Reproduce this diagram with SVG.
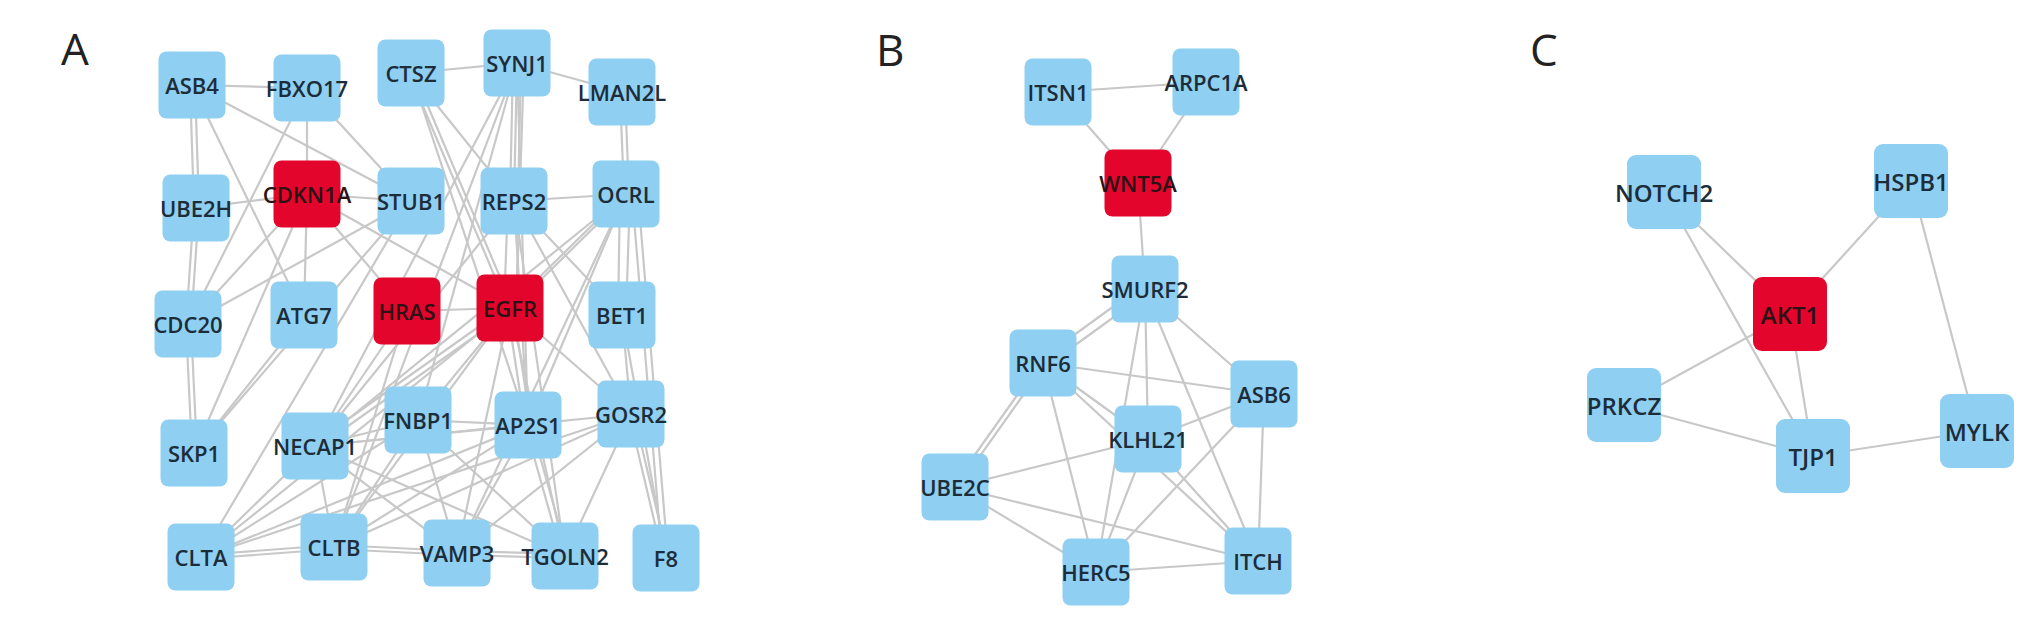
<svg xmlns="http://www.w3.org/2000/svg" width="2031" height="621" viewBox="0 0 2031 621">
<style>
.bg{fill:#ffffff}
.e line{stroke:#c8c8c8;stroke-width:2.2;stroke-linecap:round}
.b{fill:#8ecff2}
.r{fill:#e3052b}
.t{font-family:"Open Sans","Liberation Sans",sans-serif;font-size:22px;font-weight:600;fill:#1c2c38;text-anchor:middle;dominant-baseline:central}
.tr{fill:#2a1216}
.tc{font-size:24px}
.p{font-family:"Open Sans","Liberation Sans",sans-serif;font-size:44px;fill:#222222}
</style>
<rect class="bg" x="0" y="0" width="2031" height="621"/>
<text class="p" x="61" y="65">A</text>
<text class="p" x="876" y="66">B</text>
<text class="p" x="1530" y="66">C</text>
<g id="connectors" class="e">
<line x1="192" y1="85" x2="307" y2="88"/>
<line x1="190" y1="85" x2="194" y2="208"/>
<line x1="195" y1="85" x2="199" y2="208"/>
<line x1="192" y1="85" x2="411" y2="201"/>
<line x1="192" y1="85" x2="304" y2="315"/>
<line x1="307" y1="88" x2="307" y2="194"/>
<line x1="307" y1="88" x2="411" y2="201"/>
<line x1="307" y1="88" x2="188" y2="324"/>
<line x1="411" y1="73" x2="517" y2="63"/>
<line x1="517" y1="63" x2="622" y2="92"/>
<line x1="620" y1="92" x2="624" y2="194"/>
<line x1="625" y1="92" x2="629" y2="194"/>
<line x1="411" y1="73" x2="514" y2="201"/>
<line x1="409" y1="73" x2="508" y2="308"/>
<line x1="414" y1="73" x2="513" y2="308"/>
<line x1="411" y1="73" x2="528" y2="425"/>
<line x1="513" y1="63" x2="510" y2="201"/>
<line x1="517" y1="63" x2="514" y2="201"/>
<line x1="521" y1="63" x2="518" y2="201"/>
<line x1="524" y1="63" x2="516" y2="308"/>
<line x1="517" y1="63" x2="528" y2="425"/>
<line x1="517" y1="63" x2="418" y2="420"/>
<line x1="517" y1="63" x2="315" y2="446"/>
<line x1="517" y1="63" x2="334" y2="547"/>
<line x1="514" y1="201" x2="626" y2="194"/>
<line x1="508" y1="201" x2="504" y2="308"/>
<line x1="520" y1="201" x2="516" y2="308"/>
<line x1="514" y1="201" x2="315" y2="446"/>
<line x1="514" y1="201" x2="528" y2="425"/>
<line x1="514" y1="201" x2="565" y2="556"/>
<line x1="514" y1="201" x2="622" y2="315"/>
<line x1="514" y1="201" x2="631" y2="414"/>
<line x1="196" y1="208" x2="307" y2="194"/>
<line x1="307" y1="194" x2="411" y2="201"/>
<line x1="307" y1="194" x2="407" y2="311"/>
<line x1="307" y1="194" x2="510" y2="308"/>
<line x1="307" y1="194" x2="304" y2="315"/>
<line x1="307" y1="194" x2="188" y2="324"/>
<line x1="307" y1="194" x2="194" y2="453"/>
<line x1="411" y1="201" x2="188" y2="324"/>
<line x1="411" y1="201" x2="194" y2="453"/>
<line x1="411" y1="201" x2="201" y2="557"/>
<line x1="304" y1="315" x2="194" y2="453"/>
<line x1="194" y1="208" x2="186" y2="324"/>
<line x1="199" y1="208" x2="191" y2="324"/>
<line x1="186" y1="324" x2="192" y2="453"/>
<line x1="191" y1="324" x2="197" y2="453"/>
<line x1="407" y1="311" x2="510" y2="308"/>
<line x1="407" y1="311" x2="315" y2="446"/>
<line x1="407" y1="311" x2="334" y2="547"/>
<line x1="508" y1="306" x2="313" y2="444"/>
<line x1="512" y1="310" x2="317" y2="448"/>
<line x1="510" y1="308" x2="418" y2="420"/>
<line x1="507" y1="308" x2="525" y2="425"/>
<line x1="513" y1="308" x2="531" y2="425"/>
<line x1="510" y1="308" x2="201" y2="557"/>
<line x1="510" y1="308" x2="334" y2="547"/>
<line x1="510" y1="308" x2="457" y2="553"/>
<line x1="510" y1="308" x2="565" y2="556"/>
<line x1="510" y1="308" x2="631" y2="414"/>
<line x1="626" y1="192" x2="510" y2="306"/>
<line x1="626" y1="196" x2="510" y2="310"/>
<line x1="626" y1="194" x2="315" y2="446"/>
<line x1="626" y1="194" x2="528" y2="425"/>
<line x1="626" y1="194" x2="457" y2="553"/>
<line x1="620" y1="194" x2="618" y2="315"/>
<line x1="630" y1="194" x2="626" y2="315"/>
<line x1="632" y1="194" x2="662" y2="558"/>
<line x1="638" y1="194" x2="668" y2="558"/>
<line x1="622" y1="315" x2="631" y2="414"/>
<line x1="622" y1="315" x2="666" y2="558"/>
<line x1="629" y1="414" x2="663" y2="558"/>
<line x1="634" y1="414" x2="668" y2="558"/>
<line x1="631" y1="414" x2="565" y2="556"/>
<line x1="631" y1="414" x2="457" y2="553"/>
<line x1="631" y1="414" x2="334" y2="547"/>
<line x1="631" y1="414" x2="201" y2="557"/>
<line x1="631" y1="414" x2="315" y2="446"/>
<line x1="528" y1="425" x2="418" y2="420"/>
<line x1="528" y1="425" x2="315" y2="446"/>
<line x1="528" y1="425" x2="201" y2="557"/>
<line x1="528" y1="425" x2="334" y2="547"/>
<line x1="528" y1="425" x2="457" y2="553"/>
<line x1="525" y1="425" x2="562" y2="556"/>
<line x1="531" y1="425" x2="568" y2="556"/>
<line x1="418" y1="420" x2="315" y2="446"/>
<line x1="418" y1="420" x2="201" y2="557"/>
<line x1="418" y1="420" x2="334" y2="547"/>
<line x1="418" y1="420" x2="457" y2="553"/>
<line x1="418" y1="420" x2="565" y2="556"/>
<line x1="315" y1="446" x2="201" y2="557"/>
<line x1="315" y1="446" x2="334" y2="547"/>
<line x1="315" y1="446" x2="457" y2="553"/>
<line x1="315" y1="446" x2="565" y2="556"/>
<line x1="201" y1="555" x2="334" y2="545"/>
<line x1="201" y1="559" x2="334" y2="549"/>
<line x1="334" y1="545" x2="457" y2="551"/>
<line x1="334" y1="549" x2="457" y2="555"/>
<line x1="457" y1="551" x2="565" y2="554"/>
<line x1="457" y1="555" x2="565" y2="558"/>
<line x1="1058" y1="92" x2="1206" y2="82"/>
<line x1="1058" y1="92" x2="1138" y2="183"/>
<line x1="1206" y1="82" x2="1138" y2="183"/>
<line x1="1138" y1="183" x2="1145" y2="289"/>
<line x1="1143" y1="285" x2="1041" y2="359"/>
<line x1="1147" y1="293" x2="1045" y2="367"/>
<line x1="1145" y1="289" x2="1264" y2="394"/>
<line x1="1145" y1="289" x2="1148" y2="439"/>
<line x1="1145" y1="289" x2="1096" y2="572"/>
<line x1="1145" y1="289" x2="1258" y2="561"/>
<line x1="1043" y1="363" x2="1264" y2="394"/>
<line x1="1043" y1="363" x2="1148" y2="439"/>
<line x1="1043" y1="363" x2="1258" y2="561"/>
<line x1="1040" y1="363" x2="952" y2="487"/>
<line x1="1046" y1="363" x2="958" y2="487"/>
<line x1="1043" y1="363" x2="1096" y2="572"/>
<line x1="955" y1="487" x2="1148" y2="439"/>
<line x1="955" y1="487" x2="1096" y2="572"/>
<line x1="955" y1="487" x2="1258" y2="561"/>
<line x1="1264" y1="394" x2="1148" y2="439"/>
<line x1="1264" y1="394" x2="1258" y2="561"/>
<line x1="1264" y1="394" x2="1096" y2="572"/>
<line x1="1148" y1="439" x2="1096" y2="572"/>
<line x1="1148" y1="439" x2="1258" y2="561"/>
<line x1="1096" y1="572" x2="1258" y2="561"/>
<line x1="1664" y1="192" x2="1790" y2="314"/>
<line x1="1664" y1="192" x2="1813" y2="456"/>
<line x1="1911" y1="181" x2="1790" y2="314"/>
<line x1="1911" y1="181" x2="1977" y2="431"/>
<line x1="1790" y1="314" x2="1624" y2="405"/>
<line x1="1790" y1="314" x2="1813" y2="456"/>
<line x1="1624" y1="405" x2="1813" y2="456"/>
<line x1="1813" y1="456" x2="1977" y2="431"/>
</g>
<g id="ASB4"><rect class="b" x="158.5" y="51.5" width="67" height="67" rx="8"/><text class="t" x="192" y="85">ASB4</text></g>
<g id="FBXO17"><rect class="b" x="273.5" y="54.5" width="67" height="67" rx="8"/><text class="t" x="307" y="88">FBXO17</text></g>
<g id="CTSZ"><rect class="b" x="377.5" y="39.5" width="67" height="67" rx="8"/><text class="t" x="411" y="73">CTSZ</text></g>
<g id="SYNJ1"><rect class="b" x="483.5" y="29.5" width="67" height="67" rx="8"/><text class="t" x="517" y="63">SYNJ1</text></g>
<g id="LMAN2L"><rect class="b" x="588.5" y="58.5" width="67" height="67" rx="8"/><text class="t" x="622" y="92">LMAN2L</text></g>
<g id="UBE2H"><rect class="b" x="162.5" y="174.5" width="67" height="67" rx="8"/><text class="t" x="196" y="208">UBE2H</text></g>
<g id="CDKN1A"><rect class="r" x="273.5" y="160.5" width="67" height="67" rx="8"/><text class="t tr" x="307" y="194">CDKN1A</text></g>
<g id="STUB1"><rect class="b" x="377.5" y="167.5" width="67" height="67" rx="8"/><text class="t" x="411" y="201">STUB1</text></g>
<g id="REPS2"><rect class="b" x="480.5" y="167.5" width="67" height="67" rx="8"/><text class="t" x="514" y="201">REPS2</text></g>
<g id="OCRL"><rect class="b" x="592.5" y="160.5" width="67" height="67" rx="8"/><text class="t" x="626" y="194">OCRL</text></g>
<g id="CDC20"><rect class="b" x="154.5" y="290.5" width="67" height="67" rx="8"/><text class="t" x="188" y="324">CDC20</text></g>
<g id="ATG7"><rect class="b" x="270.5" y="281.5" width="67" height="67" rx="8"/><text class="t" x="304" y="315">ATG7</text></g>
<g id="HRAS"><rect class="r" x="373.5" y="277.5" width="67" height="67" rx="8"/><text class="t tr" x="407" y="311">HRAS</text></g>
<g id="EGFR"><rect class="r" x="476.5" y="274.5" width="67" height="67" rx="8"/><text class="t tr" x="510" y="308">EGFR</text></g>
<g id="BET1"><rect class="b" x="588.5" y="281.5" width="67" height="67" rx="8"/><text class="t" x="622" y="315">BET1</text></g>
<g id="SKP1"><rect class="b" x="160.5" y="419.5" width="67" height="67" rx="8"/><text class="t" x="194" y="453">SKP1</text></g>
<g id="NECAP1"><rect class="b" x="281.5" y="412.5" width="67" height="67" rx="8"/><text class="t" x="315" y="446">NECAP1</text></g>
<g id="FNBP1"><rect class="b" x="384.5" y="386.5" width="67" height="67" rx="8"/><text class="t" x="418" y="420">FNBP1</text></g>
<g id="AP2S1"><rect class="b" x="494.5" y="391.5" width="67" height="67" rx="8"/><text class="t" x="528" y="425">AP2S1</text></g>
<g id="GOSR2"><rect class="b" x="597.5" y="380.5" width="67" height="67" rx="8"/><text class="t" x="631" y="414">GOSR2</text></g>
<g id="CLTA"><rect class="b" x="167.5" y="523.5" width="67" height="67" rx="8"/><text class="t" x="201" y="557">CLTA</text></g>
<g id="CLTB"><rect class="b" x="300.5" y="513.5" width="67" height="67" rx="8"/><text class="t" x="334" y="547">CLTB</text></g>
<g id="VAMP3"><rect class="b" x="423.5" y="519.5" width="67" height="67" rx="8"/><text class="t" x="457" y="553">VAMP3</text></g>
<g id="TGOLN2"><rect class="b" x="531.5" y="522.5" width="67" height="67" rx="8"/><text class="t" x="565" y="556">TGOLN2</text></g>
<g id="F8"><rect class="b" x="632.5" y="524.5" width="67" height="67" rx="8"/><text class="t" x="666" y="558">F8</text></g>
<g id="ITSN1"><rect class="b" x="1024.5" y="58.5" width="67" height="67" rx="8"/><text class="t" x="1058" y="92">ITSN1</text></g>
<g id="ARPC1A"><rect class="b" x="1172.5" y="48.5" width="67" height="67" rx="8"/><text class="t" x="1206" y="82">ARPC1A</text></g>
<g id="WNT5A"><rect class="r" x="1104.5" y="149.5" width="67" height="67" rx="8"/><text class="t tr" x="1138" y="183">WNT5A</text></g>
<g id="SMURF2"><rect class="b" x="1111.5" y="255.5" width="67" height="67" rx="8"/><text class="t" x="1145" y="289">SMURF2</text></g>
<g id="RNF6"><rect class="b" x="1009.5" y="329.5" width="67" height="67" rx="8"/><text class="t" x="1043" y="363">RNF6</text></g>
<g id="ASB6"><rect class="b" x="1230.5" y="360.5" width="67" height="67" rx="8"/><text class="t" x="1264" y="394">ASB6</text></g>
<g id="KLHL21"><rect class="b" x="1114.5" y="405.5" width="67" height="67" rx="8"/><text class="t" x="1148" y="439">KLHL21</text></g>
<g id="UBE2C"><rect class="b" x="921.5" y="453.5" width="67" height="67" rx="8"/><text class="t" x="955" y="487">UBE2C</text></g>
<g id="HERC5"><rect class="b" x="1062.5" y="538.5" width="67" height="67" rx="8"/><text class="t" x="1096" y="572">HERC5</text></g>
<g id="ITCH"><rect class="b" x="1224.5" y="527.5" width="67" height="67" rx="8"/><text class="t" x="1258" y="561">ITCH</text></g>
<g id="NOTCH2"><rect class="b" x="1627" y="155" width="74" height="74" rx="9"/><text class="t tc" x="1664" y="192">NOTCH2</text></g>
<g id="HSPB1"><rect class="b" x="1874" y="144" width="74" height="74" rx="9"/><text class="t tc" x="1911" y="181">HSPB1</text></g>
<g id="AKT1"><rect class="r" x="1753" y="277" width="74" height="74" rx="9"/><text class="t tc tr" x="1790" y="314">AKT1</text></g>
<g id="PRKCZ"><rect class="b" x="1587" y="368" width="74" height="74" rx="9"/><text class="t tc" x="1624" y="405">PRKCZ</text></g>
<g id="TJP1"><rect class="b" x="1776" y="419" width="74" height="74" rx="9"/><text class="t tc" x="1813" y="456">TJP1</text></g>
<g id="MYLK"><rect class="b" x="1940" y="394" width="74" height="74" rx="9"/><text class="t tc" x="1977" y="431">MYLK</text></g>
</svg>
